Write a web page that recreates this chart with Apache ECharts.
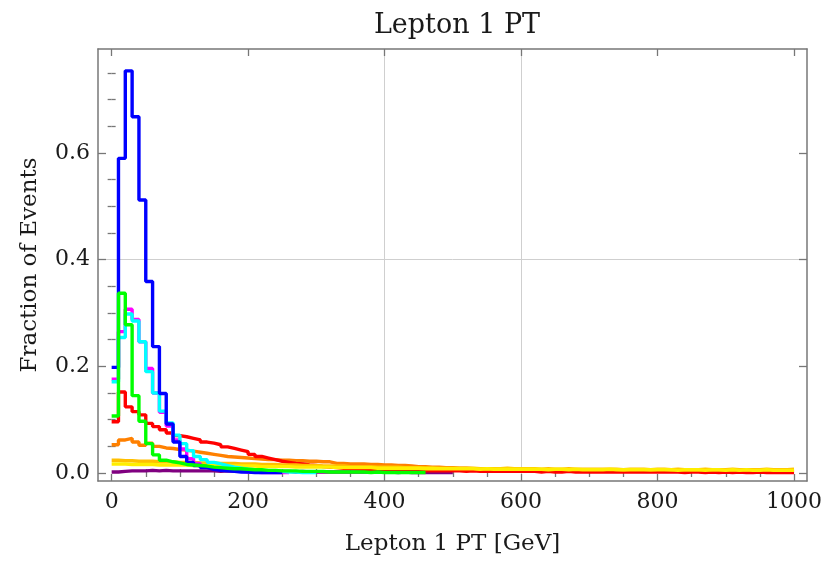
<!DOCTYPE html>
<html>
<head>
<meta charset="utf-8">
<script src="https://cdn.jsdelivr.net/npm/echarts@6/dist/echarts.min.js"></script>
<style>
  html, body { margin: 0; padding: 0; background: #fff; }
  #main { width: 826px; height: 562px; }
</style>
</head>
<body>
<div id="main"></div>
<script>
// histogram bins are 10 GeV wide, starting at 0
var binWidth = 10;

var blueFrac = [0.198,0.590,0.754,0.668,0.512,0.359,0.237,0.149,0.092,0.058,0.031,0.020,0.014,0.010,0.007,0.005,0.004,0.003,0.002,0.002,0.001,0.001,0.001,0.001,0.001];
var magentaFrac = [0.176,0.265,0.307,0.288,0.246,0.196,0.150,0.114,0.088,0.062,0.045,0.027,0.018,0.012,0.009,0.007,0.005,0.004,0.003,0.002,0.002,0.001,0.001,0.001,0.001,0.001];
var cyanFrac = [0.171,0.254,0.298,0.285,0.246,0.190,0.150,0.116,0.094,0.071,0.055,0.042,0.031,0.025,0.020,0.017,0.014,0.011,0.009,0.007,0.006,0.005,0.004,0.003,0.003,0.002,0.002,0.001,0.001,0.001];
var greenFrac = [0.107,0.337,0.278,0.145,0.097,0.055,0.034,0.024,0.021,0.019,0.016,0.015,0.014,0.013,0.011,0.010,0.009,0.008,0.008,0.007,
  0.006,0.006,0.005,0.005,0.004,0.004,0.004,0.003,0.003,0.003,0.003,0.002,0.002,0.002,0.002,0.002,0.002,0.001,0.002,0.001,
  0.001,0.001,0.001,0.001,0.001,0.001];
var redFrac = [0.096,0.152,0.124,0.115,0.109,0.093,0.087,0.081,0.075,0.070,
  0.068,0.065,0.062,0.058,0.056,0.053,0.049,0.046,0.043,0.040,
  0.035,0.031,0.028,0.025,0.022,0.020,0.018,0.017,0.015,0.014,
  0.012,0.011,0.010,0.009,0.009,0.008,0.007,0.007,0.006,0.006,
  0.006,0.005,0.005,0.005,0.005,0.004,0.004,0.004,0.004,0.004,
  0.004,0.003,0.004,0.003,0.003,0.003,0.003,0.003,0.003,0.003,
  0.003,0.003,0.002,0.003,0.002,0.002,0.003,0.002,0.002,0.002,
  0.002,0.002,0.002,0.002,0.002,0.002,0.002,0.002,0.002,0.002,
  0.002,0.002,0.002,0.001,0.002,0.002,0.001,0.002,0.001,0.002,
  0.001,0.002,0.001,0.001,0.002,0.001,0.001,0.001,0.001,0.001];
var orangeFrac = [0.053,0.062,0.065,0.058,0.052,0.056,0.050,0.047,0.046,0.044,
  0.043,0.041,0.039,0.037,0.035,0.033,0.031,0.030,0.029,0.028,
  0.027,0.026,0.025,0.025,0.024,0.024,0.023,0.023,0.022,0.022,
  0.021,0.021,0.018,0.018,0.017,0.017,0.017,0.016,0.016,0.015,
  0.015,0.014,0.014,0.013,0.012,0.012,0.011,0.011,0.010,0.010,
  0.009,0.009,0.008,0.008,0.008,0.007,0.007,0.007,0.006,0.006,
  0.006,0.006,0.005,0.005,0.005,0.005,0.005,0.004,0.004,0.004,
  0.004,0.004,0.004,0.004,0.003,0.004,0.003,0.003,0.003,0.003,
  0.003,0.003,0.003,0.003,0.003,0.003,0.002,0.003,0.003,0.002,
  0.002,0.003,0.002,0.002,0.002,0.002,0.002,0.002,0.002,0.002];
var goldFrac = [0.024,0.023,0.023,0.022,0.022,0.022,0.021,0.021,0.021,0.020,
  0.020,0.020,0.019,0.019,0.019,0.018,0.018,0.018,0.017,0.017,
  0.017,0.016,0.016,0.016,0.015,0.015,0.015,0.014,0.014,0.014,
  0.013,0.013,0.013,0.013,0.012,0.012,0.012,0.012,0.011,0.011,
  0.011,0.011,0.010,0.010,0.010,0.010,0.010,0.009,0.009,0.009,
  0.009,0.009,0.009,0.008,0.008,0.008,0.008,0.009,0.008,0.008,
  0.008,0.008,0.007,0.008,0.007,0.007,0.008,0.007,0.007,0.007,
  0.007,0.007,0.007,0.007,0.006,0.007,0.007,0.007,0.006,0.007,
  0.007,0.006,0.007,0.006,0.006,0.006,0.007,0.006,0.006,0.006,
  0.007,0.006,0.006,0.006,0.006,0.007,0.006,0.006,0.006,0.007];
var yellowFrac = [0.017,0.017,0.016,0.016,0.016,0.016,0.015,0.015,0.015,0.015,
  0.015,0.014,0.014,0.014,0.014,0.014,0.013,0.013,0.013,0.013,
  0.013,0.012,0.012,0.012,0.012,0.012,0.011,0.011,0.011,0.011,
  0.011,0.011,0.010,0.010,0.010,0.010,0.010,0.010,0.009,0.009,
  0.009,0.009,0.009,0.009,0.009,0.008,0.008,0.008,0.008,0.008,
  0.008,0.008,0.008,0.007,0.008,0.007,0.007,0.007,0.007,0.007,
  0.007,0.007,0.007,0.006,0.007,0.007,0.006,0.007,0.006,0.006,
  0.006,0.006,0.007,0.006,0.006,0.006,0.006,0.006,0.006,0.006,
  0.006,0.006,0.005,0.006,0.006,0.006,0.005,0.006,0.006,0.005,
  0.006,0.005,0.006,0.005,0.005,0.006,0.005,0.005,0.005,0.005];
var purpleFrac = [0.002,0.003,0.004,0.004,0.004,0.005,0.004,0.005,0.004,0.004,
  0.004,0.004,0.004,0.004,0.004,0.003,0.004,0.003,0.003,0.003,
  0.003,0.003,0.003,0.003,0.003,0.003,0.002,0.003,0.002,0.002,
  0.002,0.002,0.002,0.002,0.002,0.002,0.002,0.002,0.002,0.002,
  0.002,0.001,0.002,0.001,0.001,0.001,0.001,0.001,0.001,0.001];

var xMajorTicks = [0, 200, 400, 600, 800, 1000];
var xMinorTicks = [50, 100, 150, 250, 300, 350, 450, 500, 550, 650, 700, 750, 850, 900, 950];
var xGridLines = [200, 400, 600, 800];
var yMajorTicks = [0, 0.2, 0.4, 0.6];
var yMinorTicks = [0.05, 0.1, 0.15, 0.25, 0.3, 0.35, 0.45, 0.5, 0.55, 0.65, 0.7, 0.75];
var yGridLines = [0.2, 0.4, 0.6];

// bottom -> top drawing order
var histos = [
  { name: 'purple', color: '#800080', vals: purpleFrac },
  { name: 'orange', color: '#FF8000', vals: orangeFrac },
  { name: 'red', color: '#FF0000', vals: redFrac },
  { name: 'gold', color: '#FFBF00', vals: goldFrac },
  { name: 'yellow', color: '#FFEE00', vals: yellowFrac },
  { name: 'magenta', color: '#FF00FF', vals: magentaFrac },
  { name: 'cyan', color: '#00FFFF', vals: cyanFrac },
  { name: 'blue', color: '#0000FF', vals: blueFrac },
  { name: 'green', color: '#00FF00', vals: greenFrac }
];

function stepData(vals) {
  var d = vals.map(function (v, i) { return [i * binWidth, v]; });
  d.push([vals.length * binWidth, vals[vals.length - 1]]);
  return d;
}

var serifFont = 'DejaVu Serif';
var frameColor = '#777';
var gridColor = '#cfcfcf';

function tickAxis(pos, vals, len, extra) {
  var a = {
    gridIndex: 0,
    type: 'value',
    position: pos,
    axisLine: { show: false },
    axisTick: { show: true, inside: true, length: len, customValues: vals, lineStyle: { color: frameColor, width: 1.3 } },
    axisLabel: { show: false },
    splitLine: { show: false }
  };
  return Object.assign(a, extra || {});
}

var xRange = { min: -20, max: 1019 };
var yRange = { min: -0.015, max: 0.795 };

var chart = echarts.init(document.getElementById('main'));
chart.setOption({
  animation: false,
  backgroundColor: '#fff',
  title: {
    text: 'Lepton 1 PT',
    left: 452,
    textAlign: 'center',
    top: 7,
    textStyle: { fontFamily: serifFont, fontSize: 27, fontWeight: 'normal', color: '#1a1a1a' }
  },
  grid: { left: 98, right: 19, top: 49, bottom: 81, show: false },
  xAxis: [
    Object.assign(tickAxis('bottom', xMajorTicks, 7, {
      name: 'Lepton 1 PT [GeV]',
      nameLocation: 'middle',
      nameGap: 52,
      nameTextStyle: { fontFamily: serifFont, fontSize: 23, color: '#1a1a1a' },
      axisLine: { show: true, onZero: false, lineStyle: { color: frameColor, width: 1.5 } },
      axisLabel: { show: true, customValues: xMajorTicks, margin: 10, fontFamily: serifFont, fontSize: 22, color: '#1a1a1a',
        formatter: function (v) { return String(v); } }
    }), xRange),
    Object.assign(tickAxis('bottom', xMinorTicks, 4), xRange),
    Object.assign(tickAxis('top', xMajorTicks, 7, {
      axisLine: { show: true, onZero: false, lineStyle: { color: frameColor, width: 1.5 } }
    }), xRange),
    Object.assign(tickAxis('top', xMinorTicks, 4), xRange),
    Object.assign(tickAxis('bottom', xGridLines, 0, {
      axisTick: { show: false, customValues: xGridLines },
      splitLine: { show: true, showMinLine: false, showMaxLine: false, lineStyle: { color: gridColor, width: 1 } }
    }), xRange)
  ],
  yAxis: [
    Object.assign(tickAxis('left', yMajorTicks, 8, {
      name: 'Fraction of Events',
      nameLocation: 'middle',
      nameGap: 56,
      nameTextStyle: { fontFamily: serifFont, fontSize: 23, color: '#1a1a1a' },
      axisLine: { show: true, onZero: false, lineStyle: { color: frameColor, width: 1.5 } },
      axisLabel: { show: true, customValues: yMajorTicks, margin: 8, fontFamily: serifFont, fontSize: 22, color: '#1a1a1a',
        formatter: function (v) { return v.toFixed(1); } }
    }), yRange),
    Object.assign(tickAxis('left', yMinorTicks, 4), yRange),
    Object.assign(tickAxis('right', yMajorTicks, 8, {
      axisLine: { show: true, onZero: false, lineStyle: { color: frameColor, width: 1.5 } }
    }), yRange),
    Object.assign(tickAxis('right', yMinorTicks, 4), yRange),
    Object.assign(tickAxis('left', yGridLines, 0, {
      axisTick: { show: false, customValues: yGridLines },
      splitLine: { show: true, showMinLine: false, showMaxLine: false, lineStyle: { color: gridColor, width: 1 } }
    }), yRange)
  ],
  series: histos.map(function (h) {
    return {
      name: h.name,
      type: 'line',
      xAxisIndex: 0,
      yAxisIndex: 0,
      step: 'end',
      symbol: 'none',
      data: stepData(h.vals),
      lineStyle: { color: h.color, width: 3.4 },
      itemStyle: { color: h.color }
    };
  })
});
</script>
</body>
</html>
